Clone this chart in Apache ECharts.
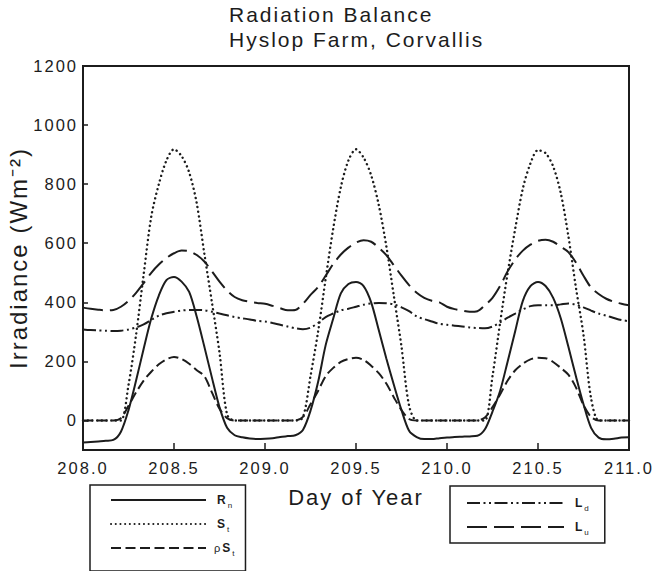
<!DOCTYPE html>
<html>
<head>
<meta charset="utf-8">
<title>Radiation Balance</title>
<script src="https://cdn.jsdelivr.net/npm/echarts@6/dist/echarts.min.js"></script>
<style>
  html, body { margin: 0; padding: 0; background: #fff; }
  #main { width: 656px; height: 571px; }
  /* the plotting package spaces its glyphs out a little */
  #main text { letter-spacing: 2px; }
</style>
</head>
<body>
<div id="main"></div>
<script>
// Hours after the start of day 208 (hourly samples over three days)
var hours = [
  0, 1, 2, 3, 4, 5, 6, 7, 8, 9, 10, 11, 12, 13, 14, 15, 16, 17, 18, 19, 20, 21, 22, 23,
  24, 25, 26, 27, 28, 29, 30, 31, 32, 33, 34, 35, 36, 37, 38, 39, 40, 41, 42, 43, 44, 45, 46, 47,
  48, 49, 50, 51, 52, 53, 54, 55, 56, 57, 58, 59, 60, 61, 62, 63, 64, 65, 66, 67, 68, 69, 70, 71, 72
];
var startDay = 208;

// Net radiation Rn (W m-2)
var netRad = [
  -75, -73, -71, -69, -66, -38, 35, 135, 243, 345, 423, 475, 486, 470, 435, 351, 250, 145, 45, -25, -50, -57, -61, -63,
  -62, -60, -56, -53, -50, -32, 33, 130, 255, 345, 430, 462, 469, 455, 400, 306, 210, 120, 35, -35, -56, -63, -63, -60,
  -58, -56, -55, -54, -52, -30, 30, 100, 200, 303, 405, 455, 469, 455, 415, 346, 250, 150, 55, -25, -58, -64, -62, -58, -57
];
// Incoming solar St
var solarIn = [
  0, 0, 0, 0, 0, 0, 120, 290, 495, 690, 800, 880, 918, 895, 840, 735, 565, 400, 230, 20, 0, 0, 0, 0,
  0, 0, 0, 0, 0, 10, 150, 300, 480, 650, 790, 880, 918, 890, 830, 730, 590, 420, 250, 50, 0, 0, 0, 0,
  0, 0, 0, 0, 0, 0, 150, 330, 500, 650, 785, 870, 915, 905, 860, 770, 625, 450, 290, 75, 0, 0, 0, 0, 0
];
// Reflected solar rho*St
var solarOut = [
  0, 0, 0, 0, 0, 8, 50, 95, 135, 165, 190, 207, 215, 208, 192, 170, 150, 95, 40, 8, 0, 0, 0, 0,
  0, 0, 0, 0, 0, 12, 55, 100, 150, 178, 198, 208, 212, 205, 185, 160, 125, 78, 35, 5, 0, 0, 0, 0,
  0, 0, 0, 0, 0, 10, 45, 88, 135, 170, 192, 207, 212, 211, 198, 178, 155, 112, 52, 12, 0, 0, 0, 0, 0
];
// Downward longwave Ld
var longDown = [
  308, 306, 305, 304, 303, 304, 308, 315, 325, 340, 355, 363, 368, 372, 374, 374, 373, 368, 362, 356, 350, 346, 342, 337,
  335, 330, 324, 318, 312, 309, 314, 330, 350, 362, 373, 378, 385, 392, 396, 398, 397, 393, 383, 370, 352, 343, 335, 327,
  324, 321, 318, 315, 313, 312, 318, 332, 348, 362, 376, 387, 390, 390, 390, 393, 396, 392, 383, 372, 362, 355, 347, 340, 336
];
// Upward longwave Lu
var longUp = [
  382, 378, 375, 373, 374, 385, 405, 432, 465, 500, 528, 550, 566, 575, 573, 560, 538, 505, 470, 440, 418, 407, 402, 398,
  395, 388, 380, 373, 374, 395, 425, 452, 490, 530, 562, 585, 602, 610, 605, 585, 560, 525, 490, 458, 432, 415, 405, 400,
  385, 377, 372, 368, 370, 390, 415, 455, 505, 545, 575, 595, 608, 612, 605, 588, 570, 535, 490, 450, 428, 412, 402, 395, 390
];

var yTicks = [0, 200, 400, 600, 800, 1000, 1200];

function pairs(values) {
  return values.map(function (v, i) { return [startDay + hours[i] / 24, v]; });
}

var FONT = '"Liberation Sans", Arial, Helvetica, sans-serif';
var INK = '#1c1c1c';

var legendLabels = {
  'Rn': '{m|R}{s|n}',
  'St': '{m|S}{s|t}',
  'ρSt': '{p|ρ}{n|S}{s|t}',
  'Ld': '{m|L}{s|d}',
  'Lu': '{m|L}{s|u}'
};
var legendRich = {
  m: { fontFamily: FONT, fontSize: 12, fontWeight: 'bold', color: INK, lineHeight: 18, padding: [0, 0, 0, 6] },
  n: { fontFamily: FONT, fontSize: 12, fontWeight: 'bold', color: INK, lineHeight: 18 },
  p: { fontFamily: FONT, fontSize: 11, color: INK, lineHeight: 18, padding: [0, 2, 0, 3] },
  s: { fontFamily: FONT, fontSize: 8, color: INK, lineHeight: 8, verticalAlign: 'bottom', padding: [0, 0, 0, 2] }
};

function lineSeries(name, values, dash, width, cap) {
  return {
    name: name,
    type: 'line',
    data: pairs(values),
    symbol: 'none',
    showSymbol: false,
    smooth: 0.3,
    lineStyle: { color: INK, width: width || 2, type: dash, cap: cap || 'butt' },
    itemStyle: { color: INK },
    emphasis: { disabled: true }
  };
}

var legendCommon = {
  orient: 'vertical',
  itemHeight: 14,
  itemGap: 9,
  height: 110,
  borderColor: INK,
  borderWidth: 1.5,
  selectedMode: false,
  itemStyle: { opacity: 0 },
  formatter: function (name) { return legendLabels[name]; },
  textStyle: { rich: legendRich }
};

var chart = echarts.init(document.getElementById('main'), null, { renderer: 'svg' });

chart.setOption({
  animation: false,
  backgroundColor: '#fff',
  title: {
    text: 'Radiation Balance\nHyslop Farm, Corvallis',
    left: 229,
    top: 2,
    padding: 0,
    textAlign: 'left',
    textStyle: { fontFamily: FONT, fontSize: 21, fontWeight: 'normal', color: INK, lineHeight: 25 }
  },
  grid: {
    left: 83, right: 27, top: 66, bottom: 121,
    outerBoundsMode: 'none',
    containLabel: false,
    show: true, borderColor: INK, borderWidth: 2, backgroundColor: 'transparent'
  },
  xAxis: {
    type: 'value',
    min: 208, max: 211, interval: 0.5,
    name: 'Day of Year',
    nameLocation: 'middle',
    nameGap: 36,
    nameTextStyle: { fontFamily: FONT, fontSize: 22, color: INK },
    axisLine: { show: true, onZero: false, lineStyle: { color: INK, width: 2 } },
    axisTick: { show: true, inside: true, length: 7, lineStyle: { color: INK, width: 1.5 } },
    axisLabel: {
      fontFamily: FONT, fontSize: 16.5, color: INK, margin: 9,
      formatter: function (v) { return v.toFixed(1); }
    },
    splitLine: { show: false }
  },
  yAxis: {
    type: 'value',
    min: -100, max: 1200, interval: 100,
    name: 'Irradiance (Wm⁻²)',
    nameLocation: 'middle',
    nameRotate: 90,
    nameGap: 50,
    nameTextStyle: { fontFamily: FONT, fontSize: 24, color: INK },
    axisLine: { show: true, onZero: false, lineStyle: { color: INK, width: 2 } },
    axisTick: { show: true, inside: true, length: 5, customValues: yTicks, lineStyle: { color: INK, width: 1.5 } },
    axisLabel: {
      fontFamily: FONT, fontSize: 16.5, color: INK, margin: 5, customValues: yTicks,
      formatter: function (v) { return String(v); }
    },
    splitLine: { show: false }
  },
  legend: [
    Object.assign({}, legendCommon, {
      data: ['Rn', 'St', 'ρSt'],
      left: 90, top: 485,
      padding: [9, 11, 14, 20],
      itemWidth: 95
    }),
    Object.assign({}, legendCommon, {
      data: ['Ld', 'Lu'],
      left: 450, top: 486,
      padding: [11, 16, 7, 16],
      itemWidth: 97
    })
  ],
  series: [
    lineSeries('Rn', netRad, 'solid', 2),
    lineSeries('St', solarIn, [0.1, 4.6], 2.4, 'round'),
    lineSeries('ρSt', solarOut, [10, 4.5], 2),
    lineSeries('Ld', longDown, [13, 3.5, 2, 3.5, 2, 3.5], 2),
    lineSeries('Lu', longUp, [20, 7], 2)
  ]
});
</script>
</body>
</html>
